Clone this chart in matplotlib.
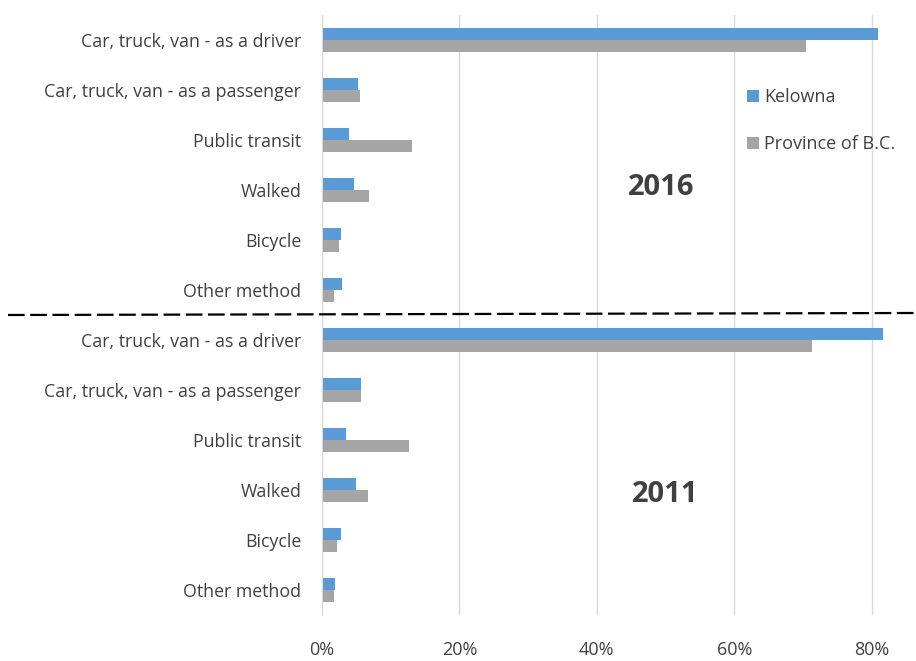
import numpy as np
import matplotlib.pyplot as plt
from matplotlib.lines import Line2D
from matplotlib.ticker import PercentFormatter

plt.rcParams['font.family'] = ['Open Sans', 'DejaVu Sans']

# commuting mode shares (%), 2016 block on top, 2011 block below
modes = ['Car, truck, van - as a driver', 'Car, truck, van - as a passenger',
         'Public transit', 'Walked', 'Bicycle', 'Other method']
kelowna_2016 = [80.9, 5.3, 4.0, 4.7, 2.8, 2.9]
bc_2016 = [70.5, 5.6, 13.1, 6.9, 2.5, 1.8]
kelowna_2011 = [81.7, 5.7, 3.5, 5.0, 2.7, 1.9]
bc_2011 = [71.3, 5.7, 12.7, 6.7, 2.2, 1.8]

labels = modes + modes
kelowna = kelowna_2016 + kelowna_2011
bc = bc_2016 + bc_2011

blue = '#5B9BD5'
grey = '#A5A5A5'
txt = '#404040'

fig = plt.figure(figsize=(9.16, 6.61), dpi=100)
ax = fig.add_axes([322 / 916, 1 - 615 / 661, (906 - 322) / 916, 600 / 661])

y = np.arange(len(labels))
h = 0.24
ax.barh(y - h / 2, kelowna, height=h, color=blue, label='Kelowna', zorder=3)
ax.barh(y + h / 2, bc, height=h, color=grey, label='Province of B.C.', zorder=3)

ax.set_ylim(len(labels) - 0.5, -0.5)
ax.set_xlim(0, 85)
ax.set_yticks(y)
ax.set_yticklabels(labels, fontsize=12.8, color=txt)
ax.set_xticks([0, 20, 40, 60, 80])
ax.xaxis.set_major_formatter(PercentFormatter(decimals=0))
ax.tick_params(axis='x', labelsize=13, labelcolor=txt, length=0, pad=19)
ax.tick_params(axis='y', length=0, pad=15)
ax.grid(axis='x', color='#D9D9D9', linewidth=1, zorder=0)
for s in ['top', 'right', 'bottom']:
    ax.spines[s].set_visible(False)
ax.spines['left'].set_color('#D9D9D9')
ax.spines['left'].set_zorder(4)

ax.text(49.3, 2.95, '2016', fontsize=21, fontweight='bold', color=txt,
        ha='center', va='center')
ax.text(49.9, 9.08, '2011', fontsize=21, fontweight='bold', color=txt,
        ha='center', va='center')

leg = ax.legend(loc='upper left', bbox_to_anchor=(731 / 916, 1 - 72 / 661),
                bbox_transform=fig.transFigure, frameon=False, fontsize=13,
                handlelength=0.65, handleheight=0.65, handletextpad=0.3,
                labelspacing=1.6)
for t in leg.get_texts():
    t.set_color(txt)

# separator between the two years
fig.add_artist(Line2D([8 / 916, 1.0], [1 - 315 / 661, 1 - 313 / 661],
                      transform=fig.transFigure, color='black',
                      linewidth=1.6, linestyle=(0, (7.5, 2.5))))

fig.savefig('out.png', dpi=100)
